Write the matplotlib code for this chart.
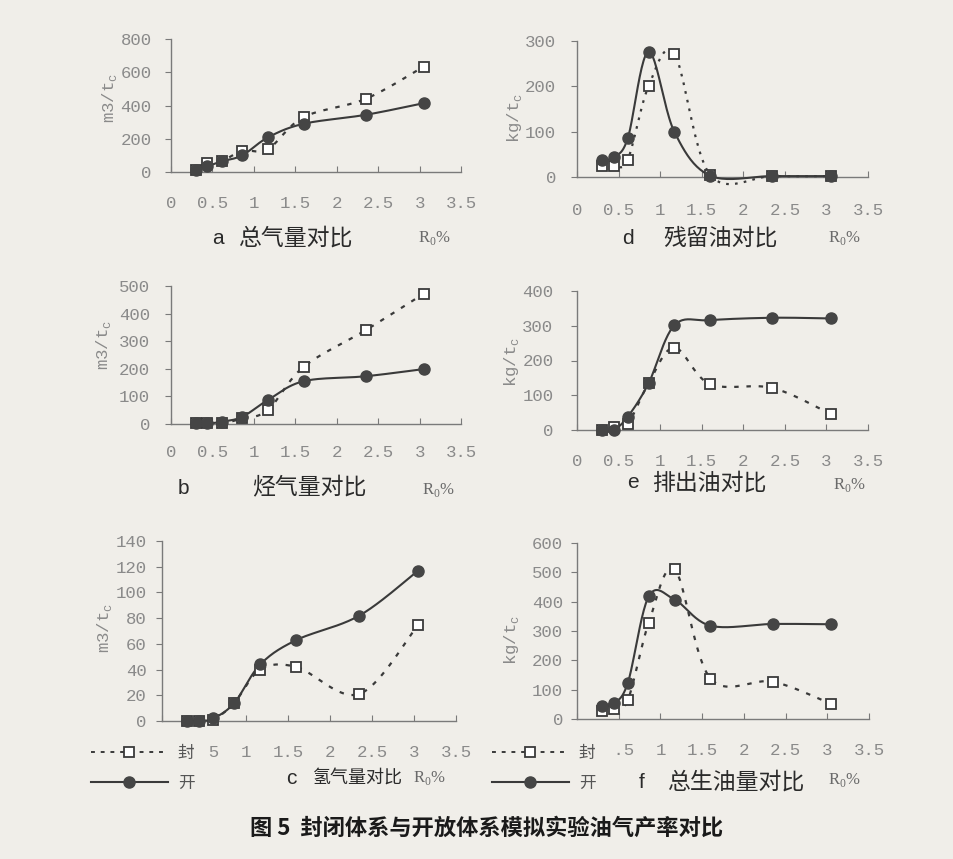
import numpy as np
import matplotlib
matplotlib.use("Agg")
import matplotlib.pyplot as plt
from matplotlib.lines import Line2D
from matplotlib.patches import Rectangle

# Vitrinite reflectance of the eight simulation steps (Ro, %)
ro = [0.30, 0.44, 0.61, 0.86, 1.17, 1.60, 2.35, 3.05]

# closed system (封) and open system (开) yields
gas_total_closed = [10, 54, 64, 128, 138, 330, 440, 634]
gas_total_open = [10, 34, 64, 100, 208, 290, 344, 414]
hc_gas_closed = [2, 2, 2, 20, 51, 207, 340, 472]
hc_gas_open = [2, 2, 8, 26, 87, 155, 173, 199]
h2_closed = [0, 0, 1, 14, 40, 42, 21, 75]
h2_open = [0, 0, 2, 14, 44, 63, 82, 117]
resid_oil_closed = [25, 25, 38, 200, 272, 5, 2, 2]
resid_oil_open = [37, 44, 85, 276, 100, 3, 2, 2]
expel_oil_closed = [0, 10, 17, 134, 237, 132, 121, 46]
expel_oil_open = [0, 0, 38, 134, 301, 316, 323, 321]
total_oil_closed = [28, 33, 65, 328, 510, 138, 127, 51]
total_oil_open = [44, 53, 124, 418, 407, 318, 324, 323]

x_ticks = [0, 0.5, 1, 1.5, 2, 2.5, 3, 3.5]
x_ticklabels = ["0", "0.5", "1", "1.5", "2", "2.5", "3", "3.5"]
legend_labels = ["封", "开"]
caption = "图 5  封闭体系与开放体系模拟实验油气产率对比"

W, H = 954, 859
BG = "#f0eee9"
INK = "#3a3a3a"
GREY = "#8a8a8a"
CJK = ["Noto Sans CJK SC", "DejaVu Sans"]
MONO = "Liberation Mono"

plt.rcParams["mathtext.fontset"] = "custom"


def smooth(x, y, n=24):
    """Catmull-Rom style smoothed polyline through the given points."""
    x = np.asarray(x, float)
    y = np.asarray(y, float)
    px = np.concatenate([[x[0]], x, [x[-1]]])
    py = np.concatenate([[y[0]], y, [y[-1]]])
    xs, ys = [], []
    t = np.linspace(0, 1, n)
    for i in range(1, len(px) - 2):
        p0 = np.array([px[i - 1], py[i - 1]])
        p1 = np.array([px[i], py[i]])
        p2 = np.array([px[i + 1], py[i + 1]])
        p3 = np.array([px[i + 2], py[i + 2]])
        c1 = p1 + (p2 - p0) / 6.0
        c2 = p2 - (p3 - p1) / 6.0
        b = ((1 - t) ** 3)[:, None] * p1 + (3 * (1 - t) ** 2 * t)[:, None] * c1 \
            + (3 * (1 - t) * t ** 2)[:, None] * c2 + (t ** 3)[:, None] * p2
        if i > 1:
            b = b[1:]
        xs.append(b[:, 0])
        ys.append(b[:, 1])
    return np.concatenate(xs), np.concatenate(ys)


fig = plt.figure(figsize=(W / 100, H / 100), dpi=100, facecolor=BG)


def make_axes(l, r, t, b):
    ax = fig.add_axes([l / W, 1 - b / H, (r - l) / W, (b - t) / H])
    ax.set_facecolor("none")
    return ax


def draw_panel(ax, closed, opened, ymax, ystep, xpad, ypad, dash=(0, (2, 3.5))):
    xc, yc = smooth(ro, closed)
    xo, yo = smooth(ro, opened)
    ax.plot(xc, yc, color=INK, lw=1.6, linestyle=dash, zorder=3, clip_on=False)
    ax.plot(xo, yo, color=INK, lw=1.5, linestyle="-", zorder=3, clip_on=False)
    ax.plot(ro, closed, linestyle="none", marker="s", ms=7.5, mfc="white",
            mec=INK, mew=1.3, zorder=4, clip_on=False)
    ax.plot(ro, opened, linestyle="none", marker="o", ms=8, mfc="#454545",
            mec="#454545", zorder=5, clip_on=False)
    ax.set_xlim(0, 3.5)
    ax.set_ylim(0, ymax)
    ax.set_xticks(x_ticks)
    ax.set_xticklabels(x_ticklabels)
    ax.set_yticks(np.arange(0, ymax + 1, ystep))
    for s in ("top", "right"):
        ax.spines[s].set_visible(False)
    for s in ("left", "bottom"):
        ax.spines[s].set_color("#7a7a7a")
        ax.spines[s].set_linewidth(1.0)
    ax.tick_params(axis="x", direction="in", length=4, color="#7a7a7a",
                   pad=xpad, labelsize=12.5, labelcolor=GREY)
    ax.tick_params(axis="y", direction="out", length=4, color="#7a7a7a",
                   pad=ypad, labelsize=12.5, labelcolor=GREY)
    for lab in ax.get_xticklabels() + ax.get_yticklabels():
        lab.set_fontfamily(MONO)


def fig_text(x, y, s, **kw):
    fig.text(x / W, 1 - y / H, s, **kw)


def ylabel(x, y, s):
    fig_text(x, y, s, rotation=90, ha="center", va="center", color=GREY,
             fontsize=12.5, family=MONO)


def title(lx, cx, y, letter, text, size=16.5):
    fig_text(lx, y, letter, ha="center", va="center", color="#2a2a2a",
             fontsize=15, family=["Liberation Sans"])
    fig_text(cx, y, text, ha="left", va="center", color="#2a2a2a",
             fontsize=size, family=CJK)


def ro_label(x, y):
    fig_text(x, y, r"R$_\mathregular{0}$%", ha="left", va="center",
             color="#6a6a6a", fontsize=12, family="Liberation Serif")


# a  total gas
ax_a = make_axes(171, 461, 39, 172)
draw_panel(ax_a, gas_total_closed, gas_total_open, 800, 200, 17, 10)
ylabel(110, 98, r"m3/t$_\mathregular{c}$")
title(218, 238, 238, "a", "总气量对比")
ro_label(418, 238)

# d  residual oil
ax_d = make_axes(577, 868, 41, 177)
draw_panel(ax_d, resid_oil_closed, resid_oil_open, 300, 100, 19, 11,
           dash=(0, (1.2, 2.8)))
ylabel(515, 118, r"kg/t$_\mathregular{c}$")
title(628, 663, 238, "d", "残留油对比")
ro_label(828, 238)

# b  hydrocarbon gas
ax_b = make_axes(171, 461, 286, 424)
draw_panel(ax_b, hc_gas_closed, hc_gas_open, 500, 100, 15, 11)
ylabel(104, 345, r"m3/t$_\mathregular{c}$")
title(183, 252, 488, "b", "烃气量对比")
ro_label(422, 490)

# e  expelled oil
ax_e = make_axes(577, 868, 291, 430)
draw_panel(ax_e, expel_oil_closed, expel_oil_open, 400, 100, 17, 13)
ylabel(512, 362, r"kg/t$_\mathregular{c}$")
title(633, 652, 483, "e", "排出油对比")
ro_label(833, 485)

# c  hydrogen
ax_c = make_axes(162, 456, 541, 721)
draw_panel(ax_c, h2_closed, h2_open, 140, 20, 17, 7)
ylabel(105, 628, r"m3/t$_\mathregular{c}$")
title(291, 313, 778, "c", "氢气量对比", size=13)
ro_label(413, 778)

# f  total oil
ax_f = make_axes(577, 869, 543, 719)
draw_panel(ax_f, total_oil_closed, total_oil_open, 600, 100, 17, 6)
ylabel(512, 640, r"kg/t$_\mathregular{c}$")
title(642, 667, 782, "f", "总生油量对比")
ro_label(828, 780)

# series keys sitting over the first x tick labels of panels c and f
for left, cover_right in ((86, 208), (487, 613)):
    fig.patches.append(Rectangle((left / W, 1 - 796 / H),
                                 (cover_right - left) / W, 58 / H,
                                 transform=fig.transFigure, facecolor=BG,
                                 edgecolor="none", zorder=1))
    h_closed = Line2D([], [], color=INK, lw=1.4, linestyle=(0, (2, 3)),
                      marker="s", ms=7.5, mfc="white", mec=INK, mew=1.3)
    h_open = Line2D([], [], color=INK, lw=1.5, linestyle="-",
                    marker="o", ms=8, mfc="#454545", mec="#454545")
    leg = fig.legend([h_closed, h_open], legend_labels, loc="upper left",
                     bbox_to_anchor=(left / W, 1 - 740 / H),
                     bbox_transform=fig.transFigure, frameon=False,
                     handlelength=4.6, handletextpad=0.6, labelspacing=0.75,
                     borderpad=0.3, borderaxespad=0, numpoints=1,
                     prop={"family": CJK, "size": 12})
    for txt in leg.get_texts():
        txt.set_color("#555555")
    leg.set_zorder(2)

fig_text(487, 828, caption, ha="center", va="center", color="#1a1a1a",
         fontsize=16, family=CJK, fontweight="bold")

fig.savefig("out.png", dpi=100, facecolor=BG)
